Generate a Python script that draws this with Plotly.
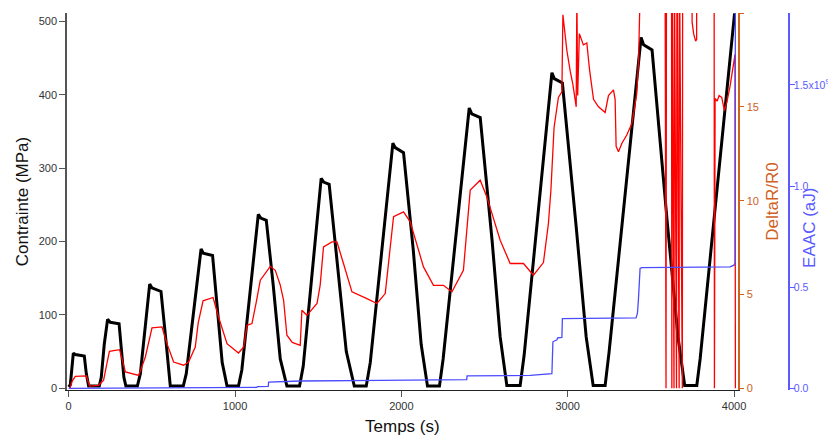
import plotly.graph_objects as go

# ---- Data ----
# Stress (MPa) vs time (s)
t_stress = [0, 10, 28, 40, 94, 106, 120, 184,
            196, 214, 234, 250, 303, 317, 332, 344, 413,
            431, 487, 500, 555, 587, 611, 689,
            707, 796, 809, 865, 899, 923, 952, 1021,
            1041, 1140, 1155, 1188, 1230, 1272, 1312, 1388,
            1410, 1518, 1533, 1566, 1615, 1669, 1717, 1789,
            1813, 1949, 1963, 2013, 2071, 2119, 2157, 2229,
            2251, 2408, 2423, 2474, 2546, 2594, 2634, 2714,
            2738, 2905, 2919, 2968, 3051, 3111, 3153, 3225,
            3249, 3441, 3456, 3507, 3597, 3663, 3703, 3776,
            3796, 4003]
stress = [2, 5, 48, 46, 44, 20, 3, 3,
          15, 60, 94, 90, 88, 50, 15, 3, 3,
          20, 142, 137, 132, 60, 3, 3,
          20, 190, 184, 181, 100, 35, 3, 3,
          25, 237, 232, 229, 140, 40, 3, 3,
          30, 286, 281, 278, 170, 50, 3, 3,
          35, 334, 328, 321, 190, 60, 3, 3,
          40, 382, 374, 369, 200, 70, 4, 4,
          45, 430, 422, 416, 220, 70, 4, 4,
          50, 478, 468, 461, 230, 70, 4, 4,
          40, 511]

# DeltaR/R0 vs time (s); values above 20 are off-scale
t_dr = [4, 10, 22, 40, 106, 126, 180, 210, 227, 245, 306, 323, 341, 421,
        461, 501, 561, 591, 631, 691, 721, 761, 779, 808, 868, 901, 952, 1021,
        1052, 1072, 1102, 1128, 1152, 1212, 1242, 1272, 1292, 1312, 1344, 1392,
        1402, 1432, 1493, 1512, 1532, 1583, 1613, 1652, 1703, 1793, 1853, 1903,
        1927, 1953, 2013, 2053, 2133, 2193, 2253, 2304, 2373, 2396, 2414, 2474,
        2514, 2594, 2654, 2734, 2794, 2854, 2884, 2899, 2918, 2944, 2965, 2971,
        2995, 3015, 3031, 3051, 3055, 3060, 3070, 3094, 3115, 3131, 3155, 3185,
        3225, 3245, 3275, 3285, 3291, 3305, 3325, 3355, 3385, 3399, 3415, 3426,
        3435, 3495, 3585, 3591, 3594, 3624, 3626, 3627, 3639, 3641, 3654, 3657,
        3670, 3671, 3689, 3691, 3745, 3748, 3757, 3769, 3775, 3776, 3880, 3882,
        3886, 3898, 3910, 3926, 3942, 3958, 3976, 3988, 4000, 4006, 4008]
delta_r = [0.0, 0.05, 0.4, 0.64, 0.66, 0.12, 0.16, 0.43, 1.2, 1.97, 2.06, 1.5, 0.87, 0.69,
           1.67, 3.22, 3.27, 2.38, 1.40, 1.23, 1.40, 2.2, 3.5, 4.66, 4.84, 3.8, 2.38, 1.88,
           2.2, 3.36, 3.45, 4.6, 5.76, 6.5, 6.29, 5.5, 4.69, 2.83, 2.45, 2.29,
           4.16, 3.89, 4.52, 5.5, 7.54, 7.8, 7.8, 6.65, 5.14, 4.78, 4.52, 5.05,
           7.0, 9.14, 9.40, 8.87, 6.47, 5.49, 5.49, 5.14, 6.29, 8.5, 10.56, 11.09,
           10.2, 7.89, 6.65, 6.65, 6.03, 6.7, 8.78, 10.56, 13.9, 15.5, 15.8, 19.9,
           18.0, 16.9, 16.2, 15.0, 21.0, 15.6, 18.9, 18.3, 18.4, 17.0, 15.4, 15.0,
           14.7, 15.6, 15.9, 15.4, 12.9, 12.6, 13.05, 13.5, 14.1, 14.8, 15.7, 17.5,
           21, 24, 24, 0, 24, 24, 0, 24, 0, 24, 0, 24,
           0, 24, 0, 24, 24, 19.5, 18.9, 18.5, 18.6, 24, 24, 0,
           15.45, 15.3, 15.6, 15.5, 14.8, 15.3, 16.1, 16.8, 17.7, 17.8, 0]

# EAAC (aJ) vs time (s)
t_eaac = [0, 491, 1130, 1135, 1200, 1202, 1392, 1873, 2393, 2395, 2774, 2905,
          2911, 2935, 2941, 2965, 2968, 3411, 3419, 3425, 3435, 3445, 3976,
          4000, 4006, 4008]
eaac = [0.0, 0.002e9, 0.004e9, 0.008e9, 0.009e9, 0.031e9, 0.036e9, 0.039e9,
        0.043e9, 0.061e9, 0.064e9, 0.072e9, 0.23e9, 0.24e9, 0.25e9, 0.252e9,
        0.345e9, 0.348e9, 0.37e9, 0.436e9, 0.593e9, 0.597e9, 0.60e9, 0.609e9,
        0.62e9, 2.0e9]

x_ticks = [0, 1000, 2000, 3000, 4000]
y_ticks = [0, 100, 200, 300, 400, 500]
dr_ticks = [0, 5, 10, 15, 20]
eaac_ticks = [0, 0.5e9, 1.0e9, 1.5e9]
eaac_ticktext = ["0.0", "0.5", "1.0", "1.5x10<sup>9</sup>"]

# ---- Styling ----
FONT = "Arial, Liberation Sans, Helvetica, sans-serif"
RED_AX = "#d0601e"
BLUE_AX = "#5a5aff"
GREY = "#555555"

fig = go.Figure()
fig.add_trace(go.Scatter(x=t_stress, y=stress, mode="lines",
                         line=dict(color="black", width=3), yaxis="y",
                         showlegend=False))
fig.add_trace(go.Scatter(x=t_dr, y=delta_r, mode="lines",
                         line=dict(color="#ff0000", width=1.3), yaxis="y2",
                         showlegend=False))
fig.add_trace(go.Scatter(x=t_eaac, y=eaac, mode="lines",
                         line=dict(color="#4a4aff", width=1.3), yaxis="y3",
                         showlegend=False))

# page body adds an 8px offset; figure sized to fit the 836x436 window
xdom_end = 671.0 / 722.3

fig.update_layout(
    width=828, height=428,
    margin=dict(l=58.7, r=47, t=5.3, b=46, pad=0),
    paper_bgcolor="white", plot_bgcolor="white",
    font=dict(family=FONT, size=11, color="#333333"),
    xaxis=dict(domain=[0, xdom_end], range=[-10, 4022], automargin=False,
               tickvals=x_ticks, ticks="outside", ticklen=6, tickcolor=GREY,
               showline=True, linecolor="#222222", linewidth=1,
               showgrid=False, zeroline=False,
               tickfont=dict(size=11, color="#333333"),
               title=dict(text="Temps (s)", font=dict(size=17, color="#111111"),
                          standoff=9)),
    yaxis=dict(range=[-2.3, 511.4], tickvals=y_ticks, ticks="outside",
               automargin=False,
               ticklen=6, tickcolor=GREY, showline=True, linecolor=GREY,
               linewidth=1.5, showgrid=False, zeroline=False,
               tickfont=dict(size=11, color="#333333"),
               title=dict(text="Contrainte (MPa)",
                          font=dict(size=17, color="#111111"), standoff=6)),
    yaxis2=dict(range=[-0.09, 20], tickvals=dr_ticks, overlaying="y",
                automargin=False,
                side="right", anchor="x", ticks="outside", ticklen=5,
                tickcolor=RED_AX, showline=True, linecolor=RED_AX,
                linewidth=1.5, showgrid=False, zeroline=False,
                tickfont=dict(size=11, color=RED_AX),
                title=dict(text="DeltaR/R0", font=dict(size=17, color=RED_AX),
                           standoff=8)),
    yaxis3=dict(range=[-0.0085e9, 1.856e9], tickvals=eaac_ticks,
                automargin=False,
                ticktext=eaac_ticktext, overlaying="y", side="right",
                anchor="free", position=1.0, ticks="outside", ticklen=5,
                ticklabelstandoff=-3,
                tickcolor=BLUE_AX, showline=True, linecolor=BLUE_AX,
                linewidth=1.5, showgrid=False, zeroline=False,
                tickfont=dict(size=10.5, color=BLUE_AX)),
    annotations=[dict(text="EAAC (aJ)", textangle=-90, xref="paper",
                      yref="paper", x=1.0, xanchor="center", xshift=21,
                      y=0.43, yanchor="middle",
                      showarrow=False,
                      font=dict(family=FONT, size=17, color=BLUE_AX))],
)

fig.write_html("out.html")
